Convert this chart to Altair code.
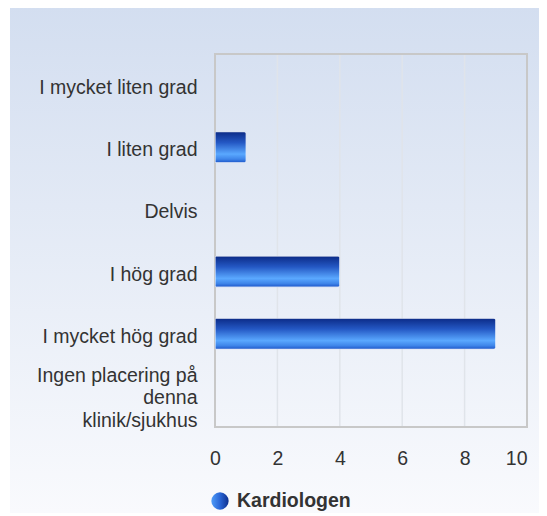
import altair as alt
import pandas as pd

categories = ["I mycket liten grad", "I liten grad", "Delvis", "I hög grad",
              "I mycket hög grad", "Ingen placering på denna klinik/sjukhus"]
values = [0, 1, 0, 4, 9, 0]
series_name = "Kardiologen"
x_ticks = [0, 2, 4, 6, 8, 10]
grid_ticks = [2, 4, 6, 8]

df = pd.DataFrame({"kategori": categories, "antal": values, "serie": series_name})

FONT = "Liberation Sans"
FS = 19.5
W, H = 312, 373
PL, PT, PR, PB = 207, 46, 12, 86

bar_grad = alt.LinearGradient(
    gradient="linear", x1=0, y1=0, x2=0, y2=1,
    stops=[
        alt.GradientStop(offset=0, color="#0b2a86"),
        alt.GradientStop(offset=0.35, color="#2458c4"),
        alt.GradientStop(offset=0.72, color="#5aa8ff"),
        alt.GradientStop(offset=0.88, color="#3f86ea"),
        alt.GradientStop(offset=1, color="#1c55c8"),
    ],
)
dot_grad = alt.LinearGradient(
    gradient="linear", x1=0, y1=0, x2=1, y2=0,
    stops=[
        alt.GradientStop(offset=0, color="#4f9cf8"),
        alt.GradientStop(offset=0.5, color="#2a66d6"),
        alt.GradientStop(offset=1, color="#0d2f8e"),
    ],
)
bg_grad = alt.LinearGradient(
    gradient="linear", x1=0, y1=0, x2=0, y2=1,
    stops=[
        alt.GradientStop(offset=0, color="#d3def0"),
        alt.GradientStop(offset=1, color="#f9fafd"),
    ],
)

xscale = alt.Scale(domain=[0, 10], nice=False)

bg = alt.Chart(pd.DataFrame({"a": [0]})).mark_rect(fill=bg_grad, clip=False).encode(
    x=alt.value(-PL + 2), x2=alt.value(W + PR),
    y=alt.value(-PT - 2), y2=alt.value(H + PB),
)

grid = alt.Chart(pd.DataFrame({"g": grid_ticks})).mark_rule(
    color="#e0e4ea", strokeWidth=1.5
).encode(x=alt.X("g:Q", scale=xscale))

frame = alt.Chart(pd.DataFrame({"a": [0]})).mark_rect(
    fill=None, filled=False, stroke="#c8c8c8", strokeWidth=2, clip=False
).encode(x=alt.value(0), x2=alt.value(W), y=alt.value(0), y2=alt.value(H))

long_label = "Ingen placering på denna klinik/sjukhus"
label_expr = (f"datum.value == '{long_label}' ? "
              "['Ingen placering på', 'denna', 'klinik/sjukhus'] : datum.value")

bars = alt.Chart(df).mark_bar(
    fill=bar_grad, stroke="white", strokeWidth=1, cornerRadiusEnd=3
).encode(
    y=alt.Y("kategori:N", sort=categories,
            scale=alt.Scale(paddingInner=0.5, paddingOuter=0.25),
            axis=alt.Axis(title=None, labelExpr=label_expr, labelFontSize=FS,
                          labelFont=FONT, labelColor="#333333", labelPadding=18,
                          labelLimit=300, labelLineHeight=22.5, ticks=False,
                          labelOffset={"condition": {"test": f"datum.value == '{long_label}'",
                                                     "value": -20}, "value": 3},
                          domain=False, grid=False, zindex=1)),
    x=alt.X("antal:Q", scale=xscale,
            axis=alt.Axis(title=None, values=x_ticks, labelFontSize=FS, labelFont=FONT,
                          labelColor="#333333", labelPadding=22, ticks=False,
                          labelFlush=False,
                          labelAlign={"condition": {"test": "datum.value == 10",
                                                    "value": "right"}, "value": "center"},
                          domain=False, grid=False, zindex=1)),
    strokeOpacity=alt.condition("datum.antal > 0", alt.value(1), alt.value(0)),
)

leg_df = pd.DataFrame({"serie": [series_name]})
leg_dot = alt.Chart(leg_df).mark_circle(fill=dot_grad, size=300, opacity=1, clip=False).encode(
    x=alt.value(5), y=alt.value(447)
)
leg_txt = alt.Chart(leg_df).mark_text(
    align="left", baseline="middle", font=FONT, fontSize=FS, fontWeight="bold",
    color="#333333", clip=False
).encode(x=alt.value(22), y=alt.value(447), text="serie:N")

chart = alt.layer(bg, grid, frame, bars, leg_dot, leg_txt).properties(
    width=W, height=H,
    autosize=alt.AutoSizeParams(type="none"),
    padding={"left": PL, "top": PT, "right": PR, "bottom": PB},
    background="white",
).configure_view(stroke=None)

chart.save("out.html", embed_options={"renderer": "svg", "actions": False})
